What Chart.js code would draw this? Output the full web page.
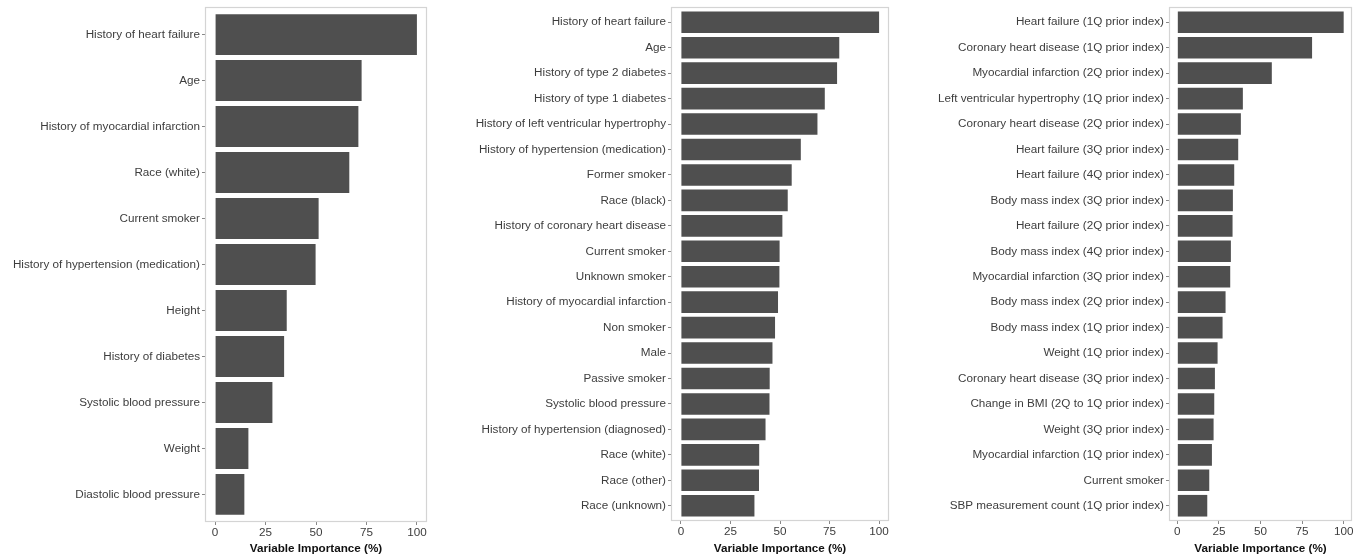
<!DOCTYPE html>
<html>
<head>
<meta charset="utf-8">
<script src="https://cdn.jsdelivr.net/npm/chart.js@4"></script>
<style>
    body { margin: 0; background: #ffffff; }
    .panel { position: absolute; top: 0; height: 556px; }
</style>
</head>
<body>
<div class="panel" style="left:0;width:455px"><canvas id="chartA"></canvas></div>
<div class="panel" style="left:455px;width:463px"><canvas id="chartB"></canvas></div>
<div class="panel" style="left:918px;width:445px"><canvas id="chartC"></canvas></div>
<script>
// ================= DATA =================

const labelsA = [
    "History of heart failure", "Age", "History of myocardial infarction", "Race (white)",
    "Current smoker", "History of hypertension (medication)", "Height", "History of diabetes",
    "Systolic blood pressure", "Weight", "Diastolic blood pressure"
];
const valuesA = [100, 72.6, 71, 66.5, 51.3, 49.8, 35.5, 34.2, 28.4, 16.5, 14.5];

const labelsB = [
    "History of heart failure", "Age", "History of type 2 diabetes", "History of type 1 diabetes",
    "History of left ventricular hypertrophy", "History of hypertension (medication)",
    "Former smoker", "Race (black)", "History of coronary heart disease", "Current smoker",
    "Unknown smoker", "History of myocardial infarction", "Non smoker", "Male", "Passive smoker",
    "Systolic blood pressure", "History of hypertension (diagnosed)", "Race (white)",
    "Race (other)", "Race (unknown)"
];
const valuesB = [100, 79.9, 78.8, 72.6, 68.9, 60.5, 55.9, 53.9, 51.2, 49.8,
                 49.7, 49.0, 47.5, 46.2, 44.8, 44.7, 42.7, 39.5, 39.4, 37.1];

const labelsC = [
    "Heart failure (1Q prior index)", "Coronary heart disease (1Q prior index)",
    "Myocardial infarction (2Q prior index)", "Left ventricular hypertrophy (1Q prior index)",
    "Coronary heart disease (2Q prior index)", "Heart failure (3Q prior index)",
    "Heart failure (4Q prior index)", "Body mass index (3Q prior index)",
    "Heart failure (2Q prior index)", "Body mass index (4Q prior index)",
    "Myocardial infarction (3Q prior index)", "Body mass index (2Q prior index)",
    "Body mass index (1Q prior index)", "Weight (1Q prior index)",
    "Coronary heart disease (3Q prior index)", "Change in BMI (2Q to 1Q prior index)",
    "Weight (3Q prior index)", "Myocardial infarction (1Q prior index)", "Current smoker",
    "SBP measurement count (1Q prior index)"
];
const valuesC = [100, 81, 56.8, 39.4, 38.2, 36.6, 34.2, 33.4, 33.2, 32.2,
                 31.8, 29, 27.2, 24.2, 22.6, 22.2, 21.8, 20.8, 19.2, 18];

const xTicks = [0, 25, 50, 75, 100];

// ================= PANEL BORDER =================

const panelBorder = {
    id: "panelBorder",
    afterDatasetsDraw(chart) {
        const {ctx, chartArea} = chart;
        ctx.save();
        ctx.strokeStyle = "#d4d4d4";
        ctx.lineWidth = 1.2;
        ctx.strokeRect(chartArea.left + 0.5, chartArea.top + 0.5,
            chartArea.right - chartArea.left - 1, chartArea.bottom - chartArea.top - 1);
        ctx.restore();
    }
};

// ================= CHART BUILDER =================

const fontFamily = "'Liberation Sans', Arial, sans-serif";

function importanceChart(id, labels, values, axisWidth, padRight, bottom, barPct) {
    const canvas = document.getElementById(id);
    canvas.width = canvas.parentNode.clientWidth;
    canvas.height = 556;

    return new Chart(canvas, {
        type: "bar",
        data: {
            datasets: [{
                data: values.map((v, i) => ({x: v, y: i})),
                backgroundColor: "#4f4f4f",
                borderWidth: 0,
                barPercentage: barPct,
                categoryPercentage: 1
            }]
        },
        plugins: [panelBorder],
        options: {
            indexAxis: "y",
            responsive: false,
            animation: false,
            layout: {
                padding: {top: 7, right: padRight, bottom: 0, left: 0}
            },
            plugins: {
                legend: {display: false},
                tooltip: {enabled: false}
            },
            scales: {
                x: {
                    type: "linear",
                    min: -5,
                    max: 105,
                    afterBuildTicks: (scale) => {
                        scale.ticks = xTicks.map(v => ({value: v}));
                    },
                    afterFit: (scale) => {
                        scale.height = 556 - bottom;
                        scale.paddingLeft = 0;
                        scale.paddingRight = 0;
                    },
                    border: {display: false},
                    grid: {
                        drawOnChartArea: false,
                        drawTicks: true,
                        tickLength: 3,
                        color: "#888888"
                    },
                    ticks: {
                        color: "#3d3d3d",
                        padding: 1,
                        maxRotation: 0,
                        font: {family: fontFamily, size: 11.7}
                    },
                    title: {
                        display: true,
                        text: "Variable Importance (%)",
                        color: "#111111",
                        padding: {top: 0, bottom: 0},
                        font: {family: fontFamily, size: 11.7, weight: "bold"}
                    }
                },
                y: {
                    type: "linear",
                    reverse: true,
                    offset: false,
                    min: -0.6,
                    max: labels.length - 0.4,
                    afterBuildTicks: (scale) => {
                        scale.ticks = labels.map((l, i) => ({value: i}));
                    },
                    afterFit: (scale) => {
                        scale.width = axisWidth;
                        scale.paddingTop = 0;
                        scale.paddingBottom = 0;
                    },
                    border: {display: false},
                    grid: {
                        offset: false,
                        drawOnChartArea: false,
                        drawTicks: true,
                        tickLength: 3,
                        color: "#888888"
                    },
                    ticks: {
                        autoSkip: false,
                        color: "#3d3d3d",
                        padding: 2,
                        callback: (value) => labels[value],
                        font: {family: fontFamily, size: 11.7}
                    }
                }
            }
        }
    });
}

const chartA = importanceChart("chartA", labelsA, valuesA, 205, 28, 522, 0.89);
const chartB = importanceChart("chartB", labelsB, valuesB, 216, 29, 521, 0.85);
const chartC = importanceChart("chartC", labelsC, valuesC, 251, 11, 521, 0.85);
</script>
</body>
</html>
